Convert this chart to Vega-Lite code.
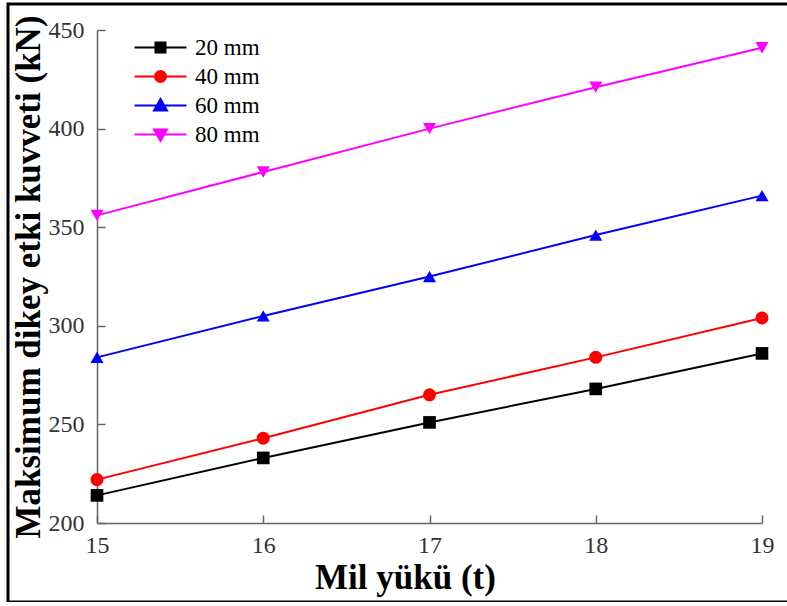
{
  "$schema": "https://vega.github.io/schema/vega-lite/v6.json",
  "width": 790,
  "height": 598,
  "autosize": {"type": "none"},
  "padding": {"left": 8, "top": 4, "right": 0, "bottom": 0},
  "background": "white",
  "config": {
    "view": {"stroke": "black", "strokeWidth": 3},
    "font": "Liberation Serif"
  },
  "data": {
    "values": [
      {"s": "20 mm", "t": 15, "f": 214},
      {"s": "20 mm", "t": 16, "f": 233},
      {"s": "20 mm", "t": 17, "f": 251},
      {"s": "20 mm", "t": 18, "f": 268},
      {"s": "20 mm", "t": 19, "f": 286},
      {"s": "40 mm", "t": 15, "f": 222},
      {"s": "40 mm", "t": 16, "f": 243},
      {"s": "40 mm", "t": 17, "f": 265},
      {"s": "40 mm", "t": 18, "f": 284},
      {"s": "40 mm", "t": 19, "f": 304},
      {"s": "60 mm", "t": 15, "f": 284},
      {"s": "60 mm", "t": 16, "f": 305},
      {"s": "60 mm", "t": 17, "f": 325},
      {"s": "60 mm", "t": 18, "f": 346},
      {"s": "60 mm", "t": 19, "f": 366},
      {"s": "80 mm", "t": 15, "f": 356},
      {"s": "80 mm", "t": 16, "f": 378},
      {"s": "80 mm", "t": 17, "f": 400},
      {"s": "80 mm", "t": 18, "f": 421},
      {"s": "80 mm", "t": 19, "f": 441}
    ]
  },
  "encoding": {
    "x": {
      "field": "t",
      "type": "quantitative",
      "scale": {"domain": [15, 19], "range": [89, 754], "nice": false, "zero": false},
      "axis": {
        "orient": "bottom",
        "offset": -79,
        "values": [15, 16, 17, 18, 19],
        "grid": false,
        "title": "Mil yükü (t)",
        "titleFont": "Liberation Serif",
        "titleFontSize": 35,
        "titleFontWeight": "bold",
        "titleColor": "#000000",
        "titlePadding": 3,
        "titleX": 397,
        "labelFont": "Liberation Serif",
        "labelFontSize": 24,
        "labelColor": "#333333",
        "labelPadding": 18,
        "labelFlush": false,
        "domainColor": "#666666",
        "domainWidth": 1.5,
        "tickColor": "#666666",
        "tickWidth": 1.5,
        "tickSize": -8
      }
    },
    "y": {
      "field": "f",
      "type": "quantitative",
      "scale": {"domain": [200, 450], "range": [519, 26], "nice": false, "zero": false},
      "axis": {
        "orient": "left",
        "offset": -89,
        "values": [200, 250, 300, 350, 400, 450],
        "grid": false,
        "title": "Maksimum dikey etki kuvveti (kN)",
        "titleFont": "Liberation Serif",
        "titleFontSize": 35,
        "titleFontWeight": "bold",
        "titleColor": "#000000",
        "titlePadding": 2,
        "labelFont": "Liberation Serif",
        "labelFontSize": 24,
        "labelColor": "#333333",
        "labelPadding": 21,
        "labelFlush": false,
        "domainColor": "#666666",
        "domainWidth": 1.5,
        "tickColor": "#666666",
        "tickWidth": 1.5,
        "tickSize": -8
      }
    },
    "color": {
      "field": "s",
      "type": "nominal",
      "scale": {"domain": ["20 mm", "40 mm", "60 mm", "80 mm"], "range": ["#000000", "#ff0000", "#0000ff", "#ff00ff"]},
      "legend": {
        "orient": "none",
        "legendX": 141,
        "legendY": 32,
        "title": null,
        "padding": 0,
        "symbolSize": 400,
        "symbolStrokeWidth": 2,
        "labelFont": "Liberation Serif",
        "labelFontSize": 23,
        "labelColor": "#000000",
        "labelOffset": 23,
        "rowPadding": 5,
        "encode": {
          "symbols": {
            "update": {
              "shape": {"signal": "datum.value == '20 mm' ? 'M-2.6,0H2.6M-0.5,-0.5H0.5V0.5H-0.5Z' : datum.value == '40 mm' ? 'M-2.6,0H2.6M-0.55,0A0.55,0.55 0 1,0 0.55,0A0.55,0.55 0 1,0 -0.55,0Z' : datum.value == '60 mm' ? 'M-2.6,0H2.6M0,-0.65L0.65,0.5L-0.65,0.5Z' : 'M-2.6,0H2.6M0,0.65L0.65,-0.5L-0.65,-0.5Z'"},
              "fill": {"scale": "color", "field": "value"},
              "stroke": {"scale": "color", "field": "value"},
              "strokeWidth": {"value": 2},
              "opacity": {"value": 1}
            }
          }
        }
      }
    }
  },
  "layer": [
    {
      "mark": {"type": "line", "strokeWidth": 2}
    },
    {
      "transform": [{"filter": "datum.s == '20 mm'"}],
      "mark": {"type": "point", "shape": "square", "filled": true, "size": 160, "opacity": 1}
    },
    {
      "transform": [{"filter": "datum.s == '40 mm'"}],
      "mark": {"type": "point", "shape": "circle", "filled": true, "size": 170, "opacity": 1}
    },
    {
      "transform": [{"filter": "datum.s == '60 mm'"}],
      "mark": {"type": "point", "shape": "triangle-up", "filled": true, "size": 170, "opacity": 1}
    },
    {
      "transform": [{"filter": "datum.s == '80 mm'"}],
      "mark": {"type": "point", "shape": "triangle-down", "filled": true, "size": 170, "opacity": 1}
    }
  ]
}
